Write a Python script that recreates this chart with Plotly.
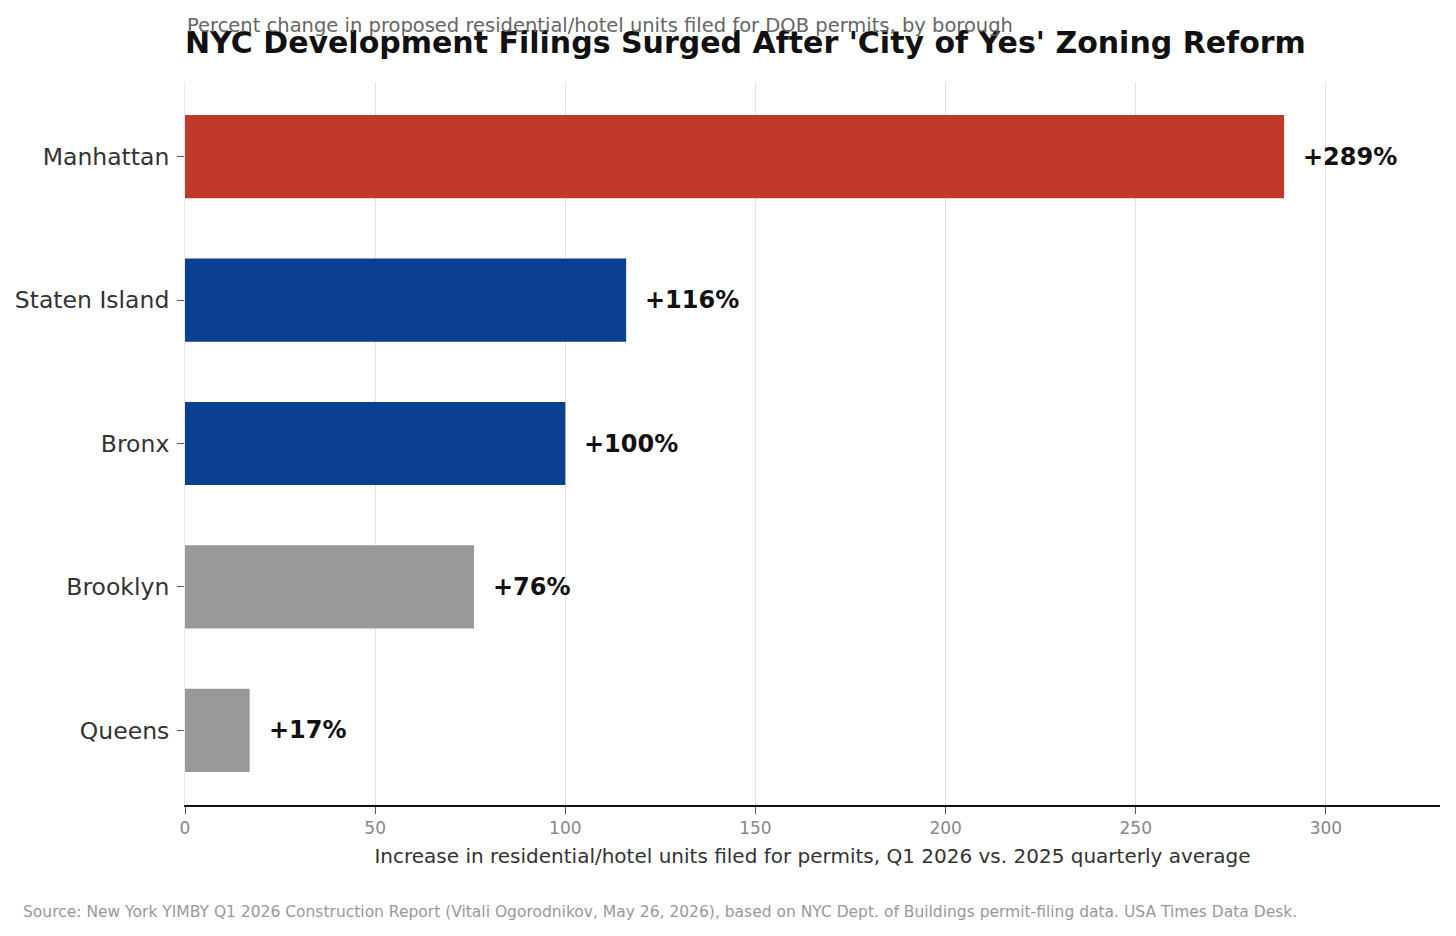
import plotly.graph_objects as go

# borough data, top to bottom as drawn
boroughs = ["Manhattan", "Staten Island", "Bronx", "Brooklyn", "Queens"]
pct_change = [289, 116, 100, 76, 17]
bar_colors = ["#C0392B", "#0B3F91", "#0B3F91", "#999999", "#999999"]
x_ticks = [0, 50, 100, 150, 200, 250, 300]

FONT = "DejaVu Sans"

fig = go.Figure()
fig.add_trace(go.Bar(
    y=boroughs,
    x=pct_change,
    orientation="h",
    marker=dict(color=bar_colors, line=dict(width=0)),
    width=0.58,
    hoverinfo="x+y",
))

# value labels just past the bar ends
for b, v in zip(boroughs, pct_change):
    fig.add_annotation(x=v, y=b, text="<b>+%d%%</b>" % v, showarrow=False,
                       xanchor="left", yanchor="middle", xshift=17,
                       font=dict(family=FONT, size=24, color="#111111"))

# subtitle (sits right on top of the title, as in the original)
fig.add_annotation(text="Percent change in proposed residential/hotel units filed for DOB permits, by borough",
                   xref="paper", yref="paper", x=0, y=1, xanchor="left", yanchor="middle",
                   yshift=57, showarrow=False,
                   font=dict(family=FONT, size=19.5, color="#666666"))

# source line
fig.add_annotation(text="Source: New York YIMBY Q1 2026 Construction Report (Vitali Ogorodnikov, May 26, 2026), based on NYC Dept. of Buildings permit-filing data. USA Times Data Desk.",
                   xref="paper", yref="paper", x=-164 / 1255, y=0, xanchor="left", yanchor="middle",
                   yshift=-107, showarrow=False,
                   font=dict(family=FONT, size=15.5, color="#999999"))

fig.update_layout(
    width=1456, height=936,
    paper_bgcolor="white", plot_bgcolor="white",
    margin=dict(l=177, r=24, t=74, b=139),
    showlegend=False,
    font=dict(family=FONT),
    title=dict(text="<b>NYC Development Filings Surged After 'City of Yes' Zoning Reform</b>",
               x=177 / 1456, xanchor="left", y=1 - 34 / 936, yanchor="middle",
               font=dict(family=FONT, size=30, color="#111111")),
)

fig.update_xaxes(
    range=[0, 330], tickvals=x_ticks, ticktext=[str(t) for t in x_ticks],
    showgrid=True, gridcolor="#E3E3E3", gridwidth=1.2, zeroline=False,
    showline=True, linecolor="#111111", linewidth=2,
    ticks="outside", ticklen=7, tickcolor="#555555", automargin=False,
    tickfont=dict(family=FONT, size=17, color="#888888"),
    title=dict(text="Increase in residential/hotel units filed for permits, Q1 2026 vs. 2025 quarterly average",
               font=dict(family=FONT, size=20, color="#333333"), standoff=12),
)

fig.update_yaxes(
    categoryorder="array", categoryarray=boroughs[::-1],
    range=[-0.52, 4.52],
    showgrid=False, zeroline=False, showline=True, linecolor="#EBEBEB", linewidth=1,
    ticks="outside", ticklen=7, tickcolor="#555555", ticklabelstandoff=3,
    automargin=False,
    tickfont=dict(family=FONT, size=23.5, color="#333333"),
)

fig.write_html("out.html")
